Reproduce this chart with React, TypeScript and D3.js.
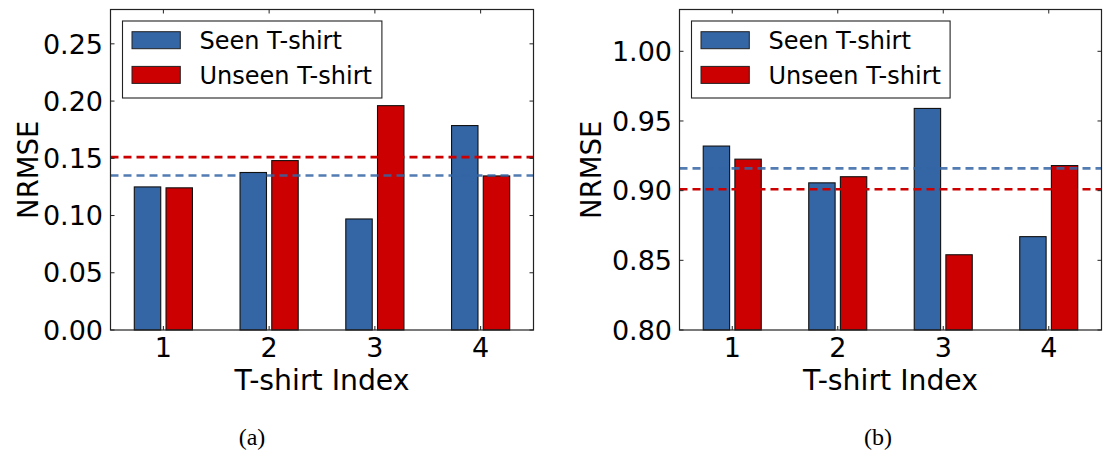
import React from "react";
import * as d3 from "d3";

const tshirtIndex = [1, 2, 3, 4];
const seriesNames = ["Seen T-shirt", "Unseen T-shirt"];

// (a)
const seenA = [0.125, 0.1376, 0.097, 0.1786];
const unseenA = [0.1242, 0.148, 0.196, 0.1346];
const seenMeanA = 0.135;
const unseenMeanA = 0.151;
const yTicksA = [0, 0.05, 0.1, 0.15, 0.2, 0.25];

// (b)
const seenB = [0.932, 0.9056, 0.959, 0.867];
const unseenB = [0.9226, 0.91, 0.854, 0.918];
const seenMeanB = 0.916;
const unseenMeanB = 0.901;
const yTicksB = [0.8, 0.85, 0.9, 0.95, 1.0];

const BLUE = "#3465a4";
const RED = "#cc0000";
const FONT = "DejaVu Sans, sans-serif";

type PanelProps = {
  left: number;
  right: number;
  yDomain: [number, number];
  yTicks: number[];
  seen: number[];
  unseen: number[];
  seenMean: number;
  unseenMean: number;
  labelX: number;
  legendW: number;
  caption: string;
  captionX: number;
};

const Panel = ({
  left,
  right,
  yDomain,
  yTicks,
  seen,
  unseen,
  seenMean,
  unseenMean,
  labelX,
  legendW,
  caption,
  captionX,
}: PanelProps) => {
  const top = 9.5;
  const bottom = 330;
  const x = d3.scaleLinear().domain([0.5, 4.5]).range([left, right]);
  const y = d3.scaleLinear().domain(yDomain).range([bottom, top]);
  const barW = 0.25;
  const gap = 0.025;
  const tickLen = 4;

  return (
    <g>
      {/* bars */}
      {tshirtIndex.map((t, i) => (
        <g key={t}>
          <rect
            x={x(t - gap - barW)}
            y={y(seen[i])}
            width={x(t - gap) - x(t - gap - barW)}
            height={bottom - y(seen[i])}
            fill={BLUE}
            stroke="#111"
            strokeWidth={1.1}
          />
          <rect
            x={x(t + gap)}
            y={y(unseen[i])}
            width={x(t + gap + barW) - x(t + gap)}
            height={bottom - y(unseen[i])}
            fill={RED}
            stroke="#111"
            strokeWidth={1.1}
          />
        </g>
      ))}

      {/* mean lines */}
      <line
        x1={left}
        x2={right}
        y1={y(seenMean)}
        y2={y(seenMean)}
        stroke={BLUE}
        strokeOpacity={0.85}
        strokeWidth={2.6}
        strokeDasharray="8 5"
      />
      <line
        x1={left}
        x2={right}
        y1={y(unseenMean)}
        y2={y(unseenMean)}
        stroke={RED}
        strokeWidth={2.6}
        strokeDasharray="8 5"
      />

      {/* frame */}
      <rect
        x={left}
        y={top}
        width={right - left}
        height={bottom - top}
        fill="none"
        stroke="#222"
        strokeWidth={1.2}
      />

      {/* y ticks */}
      {yTicks.map((v) => (
        <g key={v}>
          <line x1={left} x2={left + tickLen} y1={y(v)} y2={y(v)} stroke="#222" />
          <line x1={right} x2={right - tickLen} y1={y(v)} y2={y(v)} stroke="#222" />
          <text
            x={left - 7.5}
            y={y(v)}
            dy="0.36em"
            textAnchor="end"
            fontSize={27}
            fontFamily={FONT}
          >
            {v.toFixed(2)}
          </text>
        </g>
      ))}

      {/* x ticks */}
      {tshirtIndex.map((t) => (
        <g key={t}>
          <line x1={x(t)} x2={x(t)} y1={bottom} y2={bottom - tickLen} stroke="#222" />
          <line x1={x(t)} x2={x(t)} y1={top} y2={top + tickLen} stroke="#222" />
          <text x={x(t)} y={357} textAnchor="middle" fontSize={27} fontFamily={FONT}>
            {t}
          </text>
        </g>
      ))}

      {/* axis labels */}
      <text
        x={(left + right) / 2}
        y={390}
        textAnchor="middle"
        fontSize={28.3}
        fontFamily={FONT}
      >
        T-shirt Index
      </text>
      <text
        transform={`translate(${labelX},${(top + bottom) / 2}) rotate(-90)`}
        textAnchor="middle"
        fontSize={27.5}
        fontFamily={FONT}
      >
        NRMSE
      </text>

      {/* legend */}
      <g transform={`translate(${left + 12},21)`}>
        <rect width={legendW} height={77} fill="#fff" stroke="#222" strokeWidth={1.1} />
        {seriesNames.map((name, i) => (
          <g key={name} transform={`translate(0,${i * 34.7})`}>
            <rect
              x={9.5}
              y={10.7}
              width={48.3}
              height={17}
              fill={i === 0 ? BLUE : RED}
              stroke="#222"
              strokeWidth={1}
            />
            <text x={77} y={28} fontSize={24} fontFamily={FONT}>
              {name}
            </text>
          </g>
        ))}
      </g>

      {/* caption */}
      <text
        x={captionX}
        y={445}
        textAnchor="middle"
        fontSize={24}
        fontFamily="Liberation Serif, DejaVu Serif, serif"
      >
        {caption}
      </text>
    </g>
  );
};

export default function App() {
  return (
    <svg
      width={1103}
      height={453}
      style={{ position: "absolute", left: 0, top: 0, background: "#fff" }}
    >
      <Panel
        left={110.5}
        right={533.5}
        yDomain={[0, 0.28]}
        yTicks={yTicksA}
        seen={seenA}
        unseen={unseenA}
        seenMean={seenMeanA}
        unseenMean={unseenMeanA}
        labelX={38}
        legendW={259.4}
        caption="(a)"
        captionX={252}
      />
      <Panel
        left={679.5}
        right={1101.5}
        yDomain={[0.8, 1.03]}
        yTicks={yTicksB}
        seen={seenB}
        unseen={unseenB}
        seenMean={seenMeanB}
        unseenMean={unseenMeanB}
        labelX={601}
        legendW={258.6}
        caption="(b)"
        captionX={878}
      />
    </svg>
  );
}
